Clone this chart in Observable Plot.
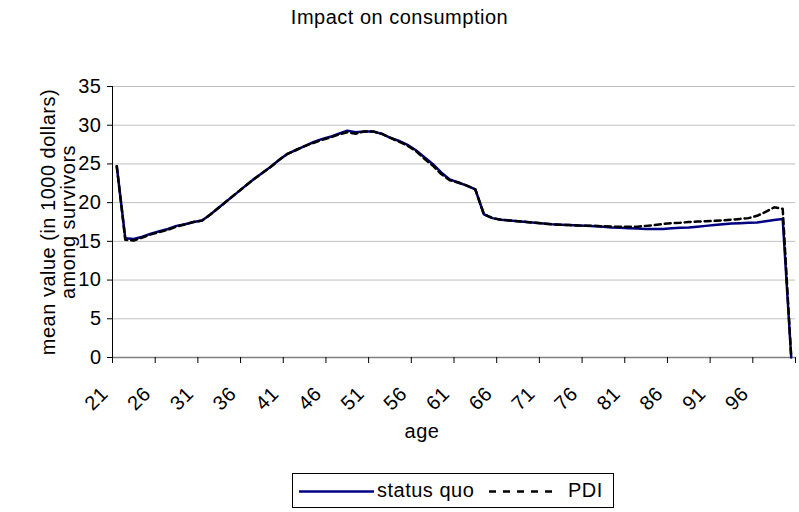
<!DOCTYPE html>
<html><head><meta charset="utf-8">
<script src="https://cdn.jsdelivr.net/npm/d3@7"></script>
<script src="https://cdn.jsdelivr.net/npm/@observablehq/plot@0.6"></script>
<style>
body{margin:0;background:#fff;font-family:"Liberation Sans",Arial,sans-serif;}
#wrap{position:relative;width:799px;height:512px;overflow:hidden;background:#fff}
#title{position:absolute;left:0;width:799px;top:6px;text-align:center;font-size:20px;letter-spacing:0.5px;color:#000}
#chart{position:absolute;left:0;top:0}
#legend{position:absolute;left:292px;top:473px;width:320px;height:33px;border:1px solid #000;box-sizing:content-box;font-size:20px;letter-spacing:0.5px}
#legend svg{position:absolute;left:0;top:0}
#legend span{position:absolute;top:5px;line-height:22px}
</style>
</head><body>
<div id="wrap">
  <div id="chart"></div>
  <div id="title">Impact on consumption</div>
  <div id="legend">
    <svg width="320" height="33">
      <line x1="6" x2="81" y1="17.5" y2="17.5" stroke="#000080" stroke-width="2.5"/>
      <line x1="196" x2="266" y1="17.5" y2="17.5" stroke="#000" stroke-width="2.5" stroke-dasharray="7,7"/>
    </svg>
    <span id="l1" style="left:84px">status quo</span>
    <span id="l2" style="left:275px">PDI</span>
  </div>
</div>
<script>
const ages = [21,22,23,24,25,26,27,28,29,30,31,32,33,34,35,36,37,38,39,40,
  41,42,43,44,45,46,47,48,49,50,51,52,53,54,55,56,57,58,59,60,
  61,62,63,64,65,66,67,68,69,70,71,72,73,74,75,76,77,78,79,80,
  81,82,83,84,85,86,87,88,89,90,91,92,93,94,95,96,97,98,99,100];
const statusQuo = [24.7,15.4,15.3,15.6,16.0,16.3,16.6,17.0,17.2,17.5,
  17.7,18.5,19.4,20.3,21.2,22.1,23.0,23.8,24.6,25.5,
  26.3,26.8,27.3,27.8,28.2,28.5,28.9,29.3,29.1,29.2,
  29.2,28.9,28.4,28.0,27.5,26.8,25.9,25.0,23.9,23.0,
  22.6,22.2,21.7,18.5,18.0,17.8,17.7,17.6,17.5,17.4,
  17.3,17.2,17.15,17.1,17.05,17.0,16.95,16.9,16.8,16.75,
  16.7,16.65,16.6,16.6,16.6,16.7,16.75,16.8,16.9,17.0,
  17.1,17.2,17.3,17.35,17.4,17.45,17.6,17.75,17.9,0];
const pdi = [24.7,15.2,15.1,15.5,15.9,16.2,16.5,16.9,17.2,17.5,
  17.7,18.5,19.4,20.3,21.2,22.1,23.0,23.8,24.6,25.5,
  26.3,26.8,27.3,27.7,28.1,28.4,28.8,29.1,28.9,29.2,
  29.2,28.9,28.4,27.9,27.4,26.7,25.7,24.8,23.7,22.9,
  22.6,22.2,21.7,18.5,18.0,17.8,17.7,17.6,17.5,17.4,
  17.3,17.2,17.15,17.1,17.05,17.0,17.0,16.95,16.9,16.9,
  16.9,16.9,17.0,17.1,17.25,17.35,17.4,17.5,17.55,17.6,
  17.65,17.7,17.8,17.9,18.0,18.3,18.8,19.4,19.2,0];
const yTicks = [0,5,10,15,20,25,30,35];
const xLabelAges = [21,26,31,36,41,46,51,56,61,66,71,76,81,86,91,96];
const xBoundaries = [20.5,25.5,30.5,35.5,40.5,45.5,50.5,55.5,60.5,65.5,70.5,75.5,80.5,85.5,90.5,95.5,100.5];

const data = ages.map((a, i) => ({age: a, sq: statusQuo[i], pdi: pdi[i]}));

const chart = Plot.plot({
  width: 799, height: 512,
  marginLeft: 112, marginRight: 4, marginTop: 86, marginBottom: 155,
  style: {fontFamily: "Liberation Sans, Arial, sans-serif", fontSize: "20px", letterSpacing: "0.5px", background: "transparent", color: "#000"},
  x: {domain: [20.5, 100.5], axis: null},
  y: {domain: [0, 35], axis: null},
  marks: [
    Plot.gridY(yTicks.slice(1), {stroke: "#c0c0c0", strokeOpacity: 1, strokeWidth: 1}),
    Plot.ruleY([0], {stroke: "#808080", strokeWidth: 1.5}),
    Plot.ruleX([20.5], {stroke: "#000", strokeWidth: 1}),
    Plot.axisY(yTicks, {label: null, tickSize: 5, tickPadding: 6, stroke: "#000", fill: "#000", fontSize: 20}),
    Plot.axisX(xBoundaries, {label: null, tickSize: 6, tickFormat: () => "", stroke: "#000"}),
    Plot.axisX(xLabelAges, {label: null, tickSize: 0, tickPadding: 0, tickRotate: -45, dx: -12, dy: 33, fill: "#000", fontSize: 20}),
    Plot.line(data, {x: "age", y: "sq", stroke: "#000080", strokeWidth: 2.5}),
    Plot.line(data, {x: "age", y: "pdi", stroke: "#000", strokeWidth: 2.5, strokeDasharray: "6,4"}),
    Plot.text(["age"], {frameAnchor: "bottom", dx: -32, dy: 80, fontSize: 20, fill: "#000"}),
    Plot.text(["mean value (in 1000 dollars)\namong survivors"], {frameAnchor: "left", textAnchor: "middle", dx: -54, rotate: -90, fontSize: 20, lineHeight: 1.0, fill: "#000"})
  ]
});
document.getElementById("chart").appendChild(chart);
</script>
</body></html>
